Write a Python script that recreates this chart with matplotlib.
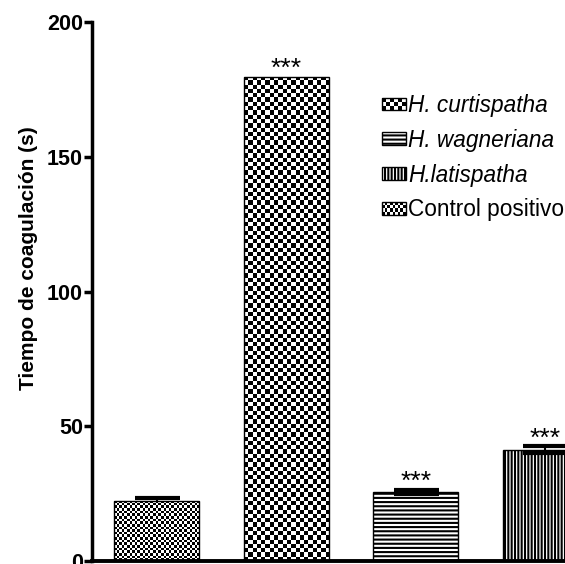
import numpy as np
import matplotlib
matplotlib.use("Agg")
from matplotlib import pyplot as plt
from matplotlib.patches import Rectangle
from matplotlib.collections import PatchCollection
from matplotlib.legend_handler import HandlerBase

# data
groups = ["Control positivo", "H. curtispatha", "H. wagneriana", "H.latispatha"]
means = [22.3, 179.6, 25.6, 41.3]
sem = [1.1, 0.0, 0.8, 1.3]
stars = ["", "***", "***", "***"]
yticks = [0, 50, 100, 150, 200]
ylabel = "Tiempo de coagulación (s)"

plt.rcParams["font.family"] = ["Liberation Sans", "DejaVu Sans"]
plt.rcParams["hatch.linewidth"] = 1.5
plt.rcParams["hatch.color"] = "black"

fig = plt.figure(figsize=(5.65, 5.64), dpi=100)
ax = fig.add_axes([92 / 565, 3 / 564, (610 - 92) / 565, 539 / 564])
ax.set_xlim(-0.5, 3.5)
ax.set_ylim(0, 200)

# fill styles: checker cell size in px, or hatch
styles = [("checker", 2.6), ("checker", 4.3), ("hatch", "----"), ("hatch", "|||||")]

x = np.arange(len(groups))
bars = []
for i in range(len(groups)):
    kind, arg = styles[i]
    b = ax.bar(x[i], means[i], width=0.66, facecolor="none",
               edgecolor="black", linewidth=1.0, hatch=arg if kind == "hatch" else None,
               zorder=2)[0]
    bars.append(b)


###############
#function: checker_fill
#description: draws a black/white checkerboard clipped to a bar
###############
def checker_fill(ax, bar, cell):
    x0, y0 = bar.get_xy()
    w, h = bar.get_width(), bar.get_height()
    p0 = ax.transData.transform((x0, y0))
    p1 = ax.transData.transform((x0 + w, y0 + h))
    nx = max(1, int(round((p1[0] - p0[0]) / cell)))
    ny = max(1, int(round((p1[1] - p0[1]) / cell)))
    arr = np.add.outer(np.arange(ny), np.arange(nx)) % 2
    im = ax.imshow(arr, cmap="gray", vmin=0, vmax=1, extent=(x0, x0 + w, y0, y0 + h),
                   origin="lower", interpolation="nearest", aspect="auto", zorder=1.5)
    im.set_clip_path(bar)


for i, b in enumerate(bars):
    if styles[i][0] == "checker":
        checker_fill(ax, b, styles[i][1])

ax.set_xlim(-0.5, 3.5)
ax.set_ylim(0, 200)

# error bars sit behind the bars, only where there is an error
has_err = [i for i in range(len(groups)) if sem[i] > 0]
ax.errorbar([x[i] for i in has_err], [means[i] for i in has_err],
            yerr=[sem[i] for i in has_err], fmt="none", ecolor="black",
            elinewidth=1.5, capsize=16.2, capthick=3.0, zorder=1)

for i in range(len(groups)):
    if stars[i]:
        ax.annotate(stars[i], (x[i], means[i] + sem[i]), xytext=(0, 0.5),
                    textcoords="offset points", ha="center", va="baseline",
                    fontsize=19, zorder=4)


class CheckerHandler(HandlerBase):
    def __init__(self, nx, ny):
        super().__init__()
        self.nx = nx
        self.ny = ny

    def create_artists(self, legend, orig_handle, xdescent, ydescent,
                       width, height, fontsize, trans):
        cw = width / self.nx
        ch = height / self.ny
        sq = [Rectangle((-xdescent + i * cw, -ydescent + j * ch), cw, ch)
              for i in range(self.nx) for j in range(self.ny) if (i + j) % 2 == 0]
        pc = PatchCollection(sq, facecolor="black", edgecolor="none", transform=trans)
        border = Rectangle((-xdescent, -ydescent), width, height, facecolor="none",
                           edgecolor="black", linewidth=1.0, transform=trans)
        return [pc, border]


order = [1, 2, 3, 0]
handles = [bars[i] for i in order]
labels = [groups[i] for i in order]
handler_map = {bars[1]: CheckerHandler(6, 3), bars[0]: CheckerHandler(9, 4)}
leg = ax.legend(handles, labels, handler_map=handler_map, loc="upper left",
                bbox_to_anchor=(382 / 565, 1 - 94 / 564), bbox_transform=fig.transFigure,
                frameon=False, fontsize=16.3, handlelength=1.05, handleheight=0.5,
                handletextpad=0.12, labelspacing=0.52, borderpad=0, borderaxespad=0)
for t, lab in zip(leg.get_texts(), labels):
    if lab != "Control positivo":
        t.set_fontstyle("italic")

for s in ["top", "right"]:
    ax.spines[s].set_visible(False)
ax.spines["left"].set_linewidth(2.5)
ax.spines["bottom"].set_linewidth(2.8)
ax.set_xticks([])
ax.set_yticks(yticks)
ax.tick_params(axis="y", length=6, width=2.5, labelsize=15.5, pad=0.5)
for lab in ax.get_yticklabels():
    lab.set_fontweight("bold")
ax.set_ylabel(ylabel, fontsize=15, fontweight="bold")
ax.yaxis.set_label_coords(-0.105, 0.562)

fig.savefig("out.png", dpi=100)
